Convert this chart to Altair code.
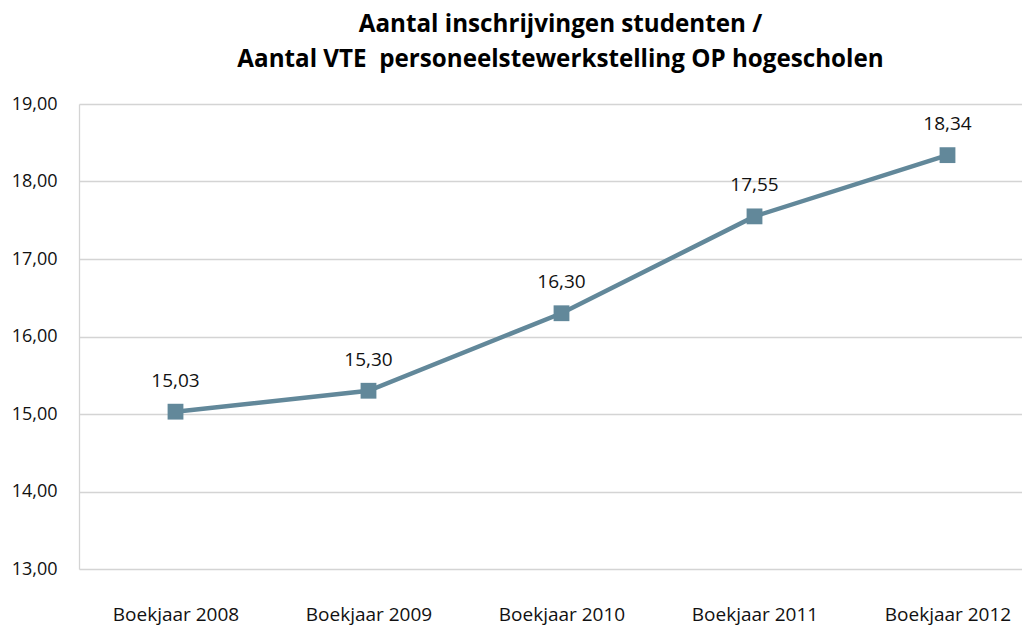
import altair as alt
import pandas as pd

categories = ["Boekjaar 2008", "Boekjaar 2009", "Boekjaar 2010", "Boekjaar 2011", "Boekjaar 2012"]
values = [15.03, 15.30, 16.30, 17.55, 18.34]
title_lines = ["Aantal inschrijvingen studenten /", "Aantal VTE \u00a0personeelstewerkstelling OP hogescholen"]

df = pd.DataFrame({"cat": categories, "val": values})

FONT = "Open Sans"
COLOR = "#62889a"

x = alt.X("cat:N", sort=categories, title=None,
          scale=alt.Scale(range=[0, 965], paddingInner=0, paddingOuter=0),
          axis=alt.Axis(labelAngle=0, ticks=False, domain=False, labelPadding=36,
                        labelFontSize=19, labelFont=FONT, labelColor="#111111"))
y = alt.Y("val:Q", title=None,
          scale=alt.Scale(domain=[13, 19], nice=False, zero=False),
          axis=alt.Axis(values=[13, 14, 15, 16, 17, 18, 19], ticks=False,
                        domain=True, domainColor="#d4d4d4", domainWidth=1.3,
                        gridColor="#d4d4d4", gridWidth=1.3,
                        labelPadding=22, labelFontSize=18, labelFont=FONT,
                        labelColor="#111111",
                        labelExpr="replace(format(datum.value, '.2f'), '.', ',')"))

base = alt.Chart(df)

line = base.mark_line(color=COLOR, strokeWidth=4.5).encode(x=x, y=y)
pts = base.mark_square(color=COLOR, size=250, opacity=1).encode(x=x, y=y)
labels = base.mark_text(dy=-31, fontSize=19, font=FONT, color="#111111").transform_calculate(
    lbl="replace(format(datum.val, '.2f'), '.', ',')"
).encode(x=x, y=y, text="lbl:N")

chart = alt.layer(line, pts, labels).properties(
    width=943,
    height=465,
    title=alt.TitleParams(title_lines, fontSize=24.2, font=FONT, fontWeight="bold",
                          color="#000000", anchor="middle", dx=10, offset=23,
                          lineHeight=35),
    autosize=alt.AutoSizeParams(type="none"),
    padding={"left": 71, "top": 96, "right": 0, "bottom": 60},
).configure_view(stroke=None)

chart.save("out.html", embed_options={"renderer": "svg", "actions": False})
